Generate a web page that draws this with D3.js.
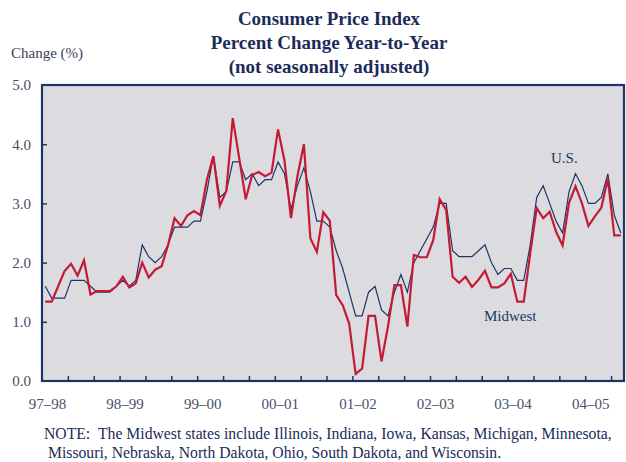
<!DOCTYPE html>
<html>
<head>
<meta charset="utf-8">
<script src="https://cdn.jsdelivr.net/npm/d3@7/dist/d3.min.js"></script>
<style>
  body { margin: 0; background: #fff; }
  svg text { font-family: "Liberation Serif", "Times New Roman", serif; }
</style>
</head>
<body>
<svg id="chart"></svg>
<script>
// monthly values, Jan 1998 .. Jun 2005
var usCPI = [
  1.6, 1.4, 1.4, 1.4, 1.7, 1.7, 1.7, 1.6, 1.5, 1.5, 1.5, 1.6,
  1.7, 1.6, 1.7, 2.3, 2.1, 2.0, 2.1, 2.3, 2.6, 2.6, 2.6, 2.7,
  2.7, 3.2, 3.8, 3.1, 3.2, 3.7, 3.7, 3.4, 3.5, 3.3, 3.4, 3.4,
  3.7, 3.5, 2.9, 3.3, 3.6, 3.2, 2.7, 2.7, 2.6, 2.2, 1.9, 1.5,
  1.1, 1.1, 1.5, 1.6, 1.2, 1.1, 1.5, 1.8, 1.5, 2.0, 2.2, 2.4,
  2.6, 3.0, 3.0, 2.2, 2.1, 2.1, 2.1, 2.2, 2.3, 2.0, 1.8, 1.9,
  1.9, 1.7, 1.7, 2.3, 3.1, 3.3, 3.0, 2.7, 2.5, 3.2, 3.5, 3.3,
  3.0, 3.0, 3.1, 3.5, 2.8, 2.5
]
var midwestCPI = [
  1.34, 1.34, 1.6, 1.86, 1.98, 1.78, 2.04, 1.46, 1.52, 1.52, 1.52, 1.6,
  1.76, 1.58, 1.65, 2.0, 1.75, 1.88, 1.94, 2.3, 2.75, 2.62, 2.8, 2.87,
  2.8, 3.4, 3.8, 2.96, 3.21, 4.44, 3.76, 3.07, 3.48, 3.53, 3.46, 3.52,
  4.25, 3.72, 2.75, 3.46, 4.0, 2.41, 2.18, 2.85, 2.71, 1.45, 1.28, 0.97,
  0.12, 0.21, 1.1, 1.1, 0.33, 0.92, 1.62, 1.62, 0.92, 2.13, 2.09, 2.09,
  2.38, 3.07, 2.89, 1.76, 1.66, 1.76, 1.59, 1.71, 1.86, 1.58, 1.58, 1.65,
  1.81, 1.34, 1.34, 2.16, 2.92, 2.75, 2.86, 2.52, 2.29, 3.01, 3.29, 3.0,
  2.62, 2.78, 2.93, 3.42, 2.46, 2.46
]
var yearLabels = ["97\u201398", "98\u201399", "99\u201300", "00\u201301", "01\u201302", "02\u201303", "03\u201304", "04\u201305"]
var yTicks = [0, 1, 2, 3, 4, 5]

var navy = "#1d3566",
    red = "#c41a35",
    textNavy = "#1b2c5a"

var svg = d3.select("#chart")
    .attr("width", 626)
    .attr("height", 462)

var plot = {left: 42, right: 624, top: 85, bottom: 381}

var x = d3.scaleLinear().domain([0, usCPI.length]).range([plot.left, plot.right])
var y = d3.scaleLinear().domain([0, 5]).range([plot.bottom, plot.top])

// titles
var titles = ["Consumer Price Index", "Percent Change Year-to-Year", "(not seasonally adjusted)"]
svg.selectAll(".title")
    .data(titles)
    .enter().append("text")
    .attr("class", "title")
    .attr("x", 329)
    .attr("y", (d, i) => 25 + i * 24)
    .attr("text-anchor", "middle")
    .style("font-size", "19px")
    .style("font-weight", "bold")
    .style("fill", textNavy)
    .text(d => d)

svg.append("text")
    .attr("x", 11)
    .attr("y", 58)
    .style("font-size", "15px")
    .style("fill", "#3c4258")
    .text("Change (%)")

// plot background
svg.append("rect")
    .attr("x", plot.left)
    .attr("y", plot.top)
    .attr("width", plot.right - plot.left)
    .attr("height", plot.bottom - plot.top)
    .style("fill", "#dcdce0")

// minor ticks along the bottom, every 4 months
var minor = svg.append("g")
    .attr("transform", "translate(0," + plot.bottom + ")")
    .call(d3.axisBottom(x).tickValues(d3.range(4, usCPI.length, 4)).tickSize(-5).tickFormat(""))
minor.select(".domain").remove()
minor.selectAll("line").style("stroke", navy).style("stroke-width", 1.5)

// year labels at January boundaries
var years = svg.append("g")
    .attr("transform", "translate(0," + plot.bottom + ")")
    .call(d3.axisBottom(x).tickValues(d3.range(0, usCPI.length, 12)).tickSize(0).tickPadding(17)
        .tickFormat((d, i) => yearLabels[i]))
years.select(".domain").remove()
years.selectAll("text")
    .attr("dx", 5)
    .style("font-size", "15px")
    .style("font-family", "Liberation Serif, serif")
    .style("fill", "#4a5068")

// y axis labels
var yAxis = svg.append("g")
    .attr("transform", "translate(" + plot.left + ",0)")
    .call(d3.axisLeft(y).tickValues(yTicks).tickSize(0).tickPadding(11).tickFormat(d3.format(".1f")))
yAxis.select(".domain").remove()
yAxis.selectAll("text")
    .style("font-size", "15px")
    .style("font-family", "Liberation Serif, serif")
    .style("fill", "#4a4e5c")

// y inner ticks
var yInner = svg.append("g")
    .attr("transform", "translate(" + plot.left + ",0)")
    .call(d3.axisRight(y).tickValues([1, 2, 3, 4]).tickSize(5).tickFormat(""))
yInner.select(".domain").remove()
yInner.selectAll("line").style("stroke", navy).style("stroke-width", 1.5)

// series
var line = d3.line()
    .x((d, i) => x(i + 0.5))
    .y(d => y(d))

svg.append("path")
    .datum(usCPI)
    .attr("d", line)
    .style("fill", "none")
    .style("stroke", navy)
    .style("stroke-width", 1.2)

svg.append("path")
    .datum(midwestCPI)
    .attr("d", line)
    .style("fill", "none")
    .style("stroke", red)
    .style("stroke-width", 2.2)

// frame
svg.append("rect")
    .attr("x", plot.left)
    .attr("y", plot.top)
    .attr("width", plot.right - plot.left)
    .attr("height", plot.bottom - plot.top)
    .style("fill", "none")
    .style("stroke", navy)
    .style("stroke-width", 2.2)

// series labels
svg.append("text")
    .attr("x", 551)
    .attr("y", 163)
    .style("font-size", "15px")
    .style("fill", navy)
    .text("U.S.")

svg.append("text")
    .attr("x", 484)
    .attr("y", 321)
    .style("font-size", "15px")
    .style("fill", navy)
    .text("Midwest")

// note
var note = ["NOTE:\u00a0\u00a0The Midwest states include Illinois, Indiana, Iowa, Kansas, Michigan, Minnesota,",
    "Missouri, Nebraska, North Dakota, Ohio, South Dakota, and Wisconsin."]
svg.selectAll(".note")
    .data(note)
    .enter().append("text")
    .attr("class", "note")
    .attr("x", (d, i) => i == 0 ? 44 : 48)
    .attr("y", (d, i) => 439 + i * 19)
    .style("font-size", "15.7px")
    .style("fill", textNavy)
    .text(d => d)
</script>
</body>
</html>
